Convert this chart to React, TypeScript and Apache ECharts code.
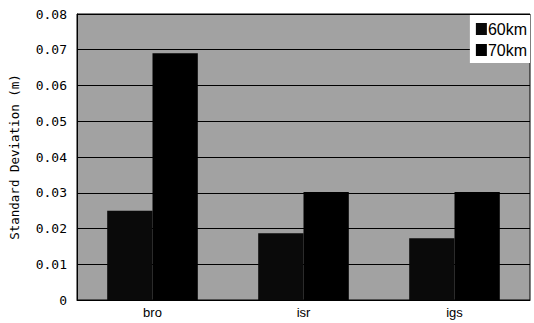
import React, { useEffect, useRef } from "react";
import * as echarts from "echarts";

const categories = ["bro", "isr", "igs"];
const seriesNames = ["60km", "70km"];
const values60 = [0.025, 0.0187, 0.0173];
const values70 = [0.069, 0.0302, 0.0302];
const yTicks = { min: 0, max: 0.08, interval: 0.01 };

export default function App() {
  const ref = useRef<HTMLDivElement>(null);
  useEffect(() => {
    if (!ref.current) return;
    const chart = echarts.init(ref.current, null, { renderer: "svg" });
    chart.setOption({
      animation: false,
      backgroundColor: "#ffffff",
      textStyle: { fontFamily: "DejaVu Sans" },
      grid: {
        left: 77,
        right: 4,
        top: 14,
        bottom: 23,
        show: true,
        backgroundColor: "#a2a2a2",
        borderColor: "#000",
        borderWidth: 1,
      },
      legend: {
        data: seriesNames,
        orient: "vertical",
        right: 4,
        top: 15,
        backgroundColor: "#ffffff",
        padding: [6, 3, 5, 6],
        itemGap: 5,
        itemWidth: 11,
        itemHeight: 12,
        icon: "rect",
        textStyle: { fontSize: 16, color: "#000", fontFamily: "Liberation Sans", padding: [0, 0, 0, -4] },
      },
      xAxis: {
        type: "category",
        data: categories,
        axisLine: { lineStyle: { color: "#000", width: 1 } },
        axisTick: { show: false },
        axisLabel: { color: "#000", fontSize: 13, margin: 6, fontFamily: "Liberation Sans" },
      },
      yAxis: {
        type: "value",
        min: yTicks.min,
        max: yTicks.max,
        interval: yTicks.interval,
        name: "Standard Deviation (m)",
        nameLocation: "middle",
        nameGap: 56,
        nameTextStyle: { color: "#000", fontSize: 12.5, fontFamily: "DejaVu Sans Mono" },
        axisLine: { show: true, lineStyle: { color: "#000" } },
        axisTick: { show: false },
        splitLine: { show: true, lineStyle: { color: "#000", width: 1 } },
        axisLabel: {
          color: "#000",
          fontSize: 13,
          margin: 10,
          fontFamily: "DejaVu Sans Mono",
          formatter: (v: number) => (v === 0 ? "0" : v.toFixed(2)),
        },
      },
      series: [
        {
          name: seriesNames[0],
          type: "bar",
          data: values60,
          barGap: "0%",
          barCategoryGap: "40%",
          itemStyle: { color: "#0a0a0a" },
        },
        {
          name: seriesNames[1],
          type: "bar",
          data: values70,
          barGap: "0%",
          barCategoryGap: "40%",
          itemStyle: { color: "#000000" },
        },
      ],
    });
    return () => chart.dispose();
  }, []);
  return <div ref={ref} style={{ width: 534, height: 323, position: "absolute", left: 0, top: 0 }} />;
}
